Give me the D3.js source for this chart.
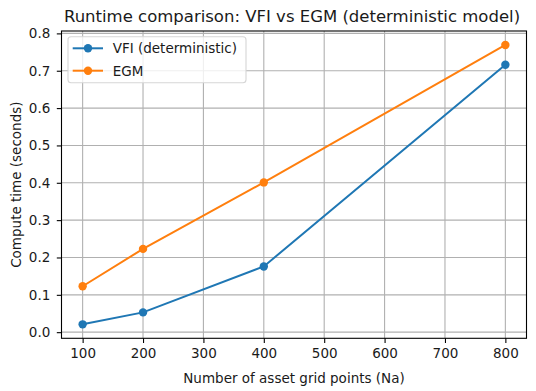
<!DOCTYPE html>
<html><head><meta charset="utf-8">
<script src="https://cdn.jsdelivr.net/npm/d3@7"></script>
<style>body{margin:0;background:#fff}svg{display:block}text{font-family:"DejaVu Sans",sans-serif;fill:#1a1a1a}</style>
</head><body><svg id="c" width="536" height="391"></svg>
<script>
const gridPoints = [100, 200, 400, 800];
const vfiTimes = [0.021, 0.053, 0.176, 0.716];
const egmTimes = [0.123, 0.223, 0.401, 0.769];
const seriesNames = ["VFI (deterministic)", "EGM"];
const seriesColors = ["#1f77b4", "#ff7f0e"];
const xTicks = [100, 200, 300, 400, 500, 600, 700, 800];
const yTicks = [0.0, 0.1, 0.2, 0.3, 0.4, 0.5, 0.6, 0.7, 0.8];

const svg = d3.select("#c");
const L = 61.5, R = 526.5, T = 31, B = 338.3;
const FS = 13.5;
const xmin = d3.min(gridPoints), xmax = d3.max(gridPoints), xm = (xmax - xmin) * 0.05;
const allY = vfiTimes.concat(egmTimes);
const ymin = d3.min(allY), ymax = d3.max(allY), ym = (ymax - ymin) * 0.05;
const x = d3.scaleLinear().domain([xmin - xm, xmax + xm]).range([L, R]);
const y = d3.scaleLinear().domain([ymin - ym, ymax + ym]).range([B, T]);

// grid
const g = svg.append("g");
g.selectAll(".gx").data(xTicks).join("line").attr("x1", d => x(d)).attr("x2", d => x(d))
  .attr("y1", T).attr("y2", B).attr("stroke", "#b0b0b0").attr("stroke-width", 1.1);
g.selectAll(".gy").data(yTicks).join("line").attr("y1", d => y(d)).attr("y2", d => y(d))
  .attr("x1", L).attr("x2", R).attr("stroke", "#b0b0b0").attr("stroke-width", 1.1);

// axes
const xAxis = d3.axisBottom(x).tickValues(xTicks).tickSize(4.7).tickPadding(5.5).tickFormat(d3.format("d"));
const yAxis = d3.axisLeft(y).tickValues(yTicks).tickSize(4.7).tickPadding(6.5).tickFormat(d3.format(".1f"));
const ax = svg.append("g").attr("transform", `translate(0,${B})`).call(xAxis);
const ay = svg.append("g").attr("transform", `translate(${L},0)`).call(yAxis);
[ax, ay].forEach(a => {
  a.select(".domain").remove();
  a.selectAll("line").attr("stroke", "#000").attr("stroke-width", 1.1);
  a.selectAll("text").attr("font-size", FS + "px").style("font-family", "DejaVu Sans").attr("fill", "#1a1a1a");
});

// series
const series = [vfiTimes, egmTimes];
const line = d3.line().x((d, i) => x(gridPoints[i])).y(d => y(d));
series.forEach((s, k) => {
  svg.append("path").datum(s).attr("d", line).attr("fill", "none")
    .attr("stroke", seriesColors[k]).attr("stroke-width", 2);
  svg.selectAll(".m" + k).data(s).join("circle").attr("cx", (d, i) => x(gridPoints[i]))
    .attr("cy", d => y(d)).attr("r", 4.2).attr("fill", seriesColors[k]);
});

// frame
svg.append("rect").attr("x", L).attr("y", T).attr("width", R - L).attr("height", B - T)
  .attr("fill", "none").attr("stroke", "#000").attr("stroke-width", 1.1);

// legend
const lg = svg.append("g");
lg.append("rect").attr("x", 68).attr("y", 36.7).attr("width", 178).attr("height", 46).attr("rx", 3)
  .attr("fill", "#fff").attr("fill-opacity", 0.8).attr("stroke", "#d6d6d6").attr("stroke-width", 1.1);
seriesNames.forEach((n, k) => {
  const yy = 48.3 + k * 22.4;
  lg.append("line").attr("x1", 72.7).attr("x2", 103).attr("y1", yy).attr("y2", yy)
    .attr("stroke", seriesColors[k]).attr("stroke-width", 2);
  lg.append("circle").attr("cx", 88).attr("cy", yy).attr("r", 4.2).attr("fill", seriesColors[k]);
  lg.append("text").attr("x", 112.7).attr("y", yy).attr("dy", "0.36em").attr("font-size", FS + "px").text(n);
});

// labels
svg.append("text").attr("x", 292).attr("y", 22.3).attr("text-anchor", "middle")
  .attr("font-size", "16.5px").text("Runtime comparison: VFI vs EGM (deterministic model)");
svg.append("text").attr("x", (L + R) / 2).attr("y", 382.5).attr("text-anchor", "middle")
  .attr("font-size", FS + "px").text("Number of asset grid points (Na)");
svg.append("text").attr("transform", `translate(21,${(T + B) / 2}) rotate(-90)`).attr("text-anchor", "middle")
  .attr("font-size", FS + "px").text("Compute time (seconds)");
</script></body></html>
